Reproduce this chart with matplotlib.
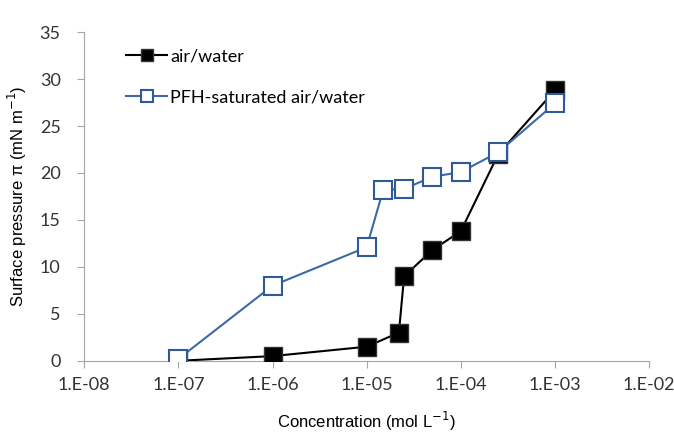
import numpy as np
import matplotlib
matplotlib.use("Agg")
import matplotlib.pyplot as plt

# data
air_conc = [1e-7, 1e-6, 1e-5, 2.2e-5, 2.5e-5, 5e-5, 1e-4, 2.5e-4, 1e-3]
air_pi = [0.0, 0.5, 1.5, 3.0, 9.0, 11.8, 13.8, 22.0, 28.8]
pfh_conc = [1e-7, 1e-6, 1e-5, 1.5e-5, 2.5e-5, 5e-5, 1e-4, 2.5e-4, 1e-3]
pfh_pi = [0.2, 8.0, 12.1, 18.2, 18.3, 19.6, 20.1, 22.2, 27.4]
xticks = [1e-8, 1e-7, 1e-6, 1e-5, 1e-4, 1e-3, 1e-2]
xlabels = ["1.E-08", "1.E-07", "1.E-06", "1.E-05", "1.E-04", "1.E-03", "1.E-02"]

fig = plt.figure(figsize=(6.74, 4.4), dpi=100)
ax = fig.add_axes([0.125, 0.18, 0.838, 0.747])

ax.plot(air_conc, air_pi, "-s", color="black", lw=1.5, ms=12.5,
        mfc="black", mec="#333333", mew=1.0, label="air/water", zorder=3)
ax.plot(pfh_conc, pfh_pi, "-s", color="#3D6AA6", lw=1.5, ms=12.5,
        mfc="white", mec="#2E5A98", mew=1.5, label="PFH-saturated air/water", zorder=4)

ax.set_xscale("log")
ax.set_xlim(1e-8, 1e-2)
ax.set_ylim(0, 35)
ax.set_xticks(xticks)
ax.set_xticklabels(xlabels)
ax.minorticks_off()
ax.set_yticks(range(0, 36, 5))

for s in ["top", "right"]:
    ax.spines[s].set_visible(False)
for s in ["left", "bottom"]:
    ax.spines[s].set_color("#a6a6a6")
ax.tick_params(axis="both", colors="#a6a6a6", labelcolor="#333333",
               length=5, labelsize=13)
for t in ax.get_xticklabels() + ax.get_yticklabels():
    t.set_family("Lato")
ax.tick_params(axis="x", pad=7)
ax.tick_params(axis="y", pad=12)

ax.set_xlabel("Concentration (mol L$^{-1}$)", fontsize=12, family="Liberation Sans", labelpad=12)
ax.set_ylabel("Surface pressure \u03c0 (mN m$^{-1}$)", fontsize=12, family="Liberation Sans", labelpad=8)

leg = ax.legend(loc="upper left", bbox_to_anchor=(0.045, 1.0), frameon=False,
                prop={"family": "Lato", "size": 13}, handlelength=2.3,
                labelspacing=1.4, handletextpad=0.15, markerscale=0.7)

fig.savefig("out.png", dpi=100)
